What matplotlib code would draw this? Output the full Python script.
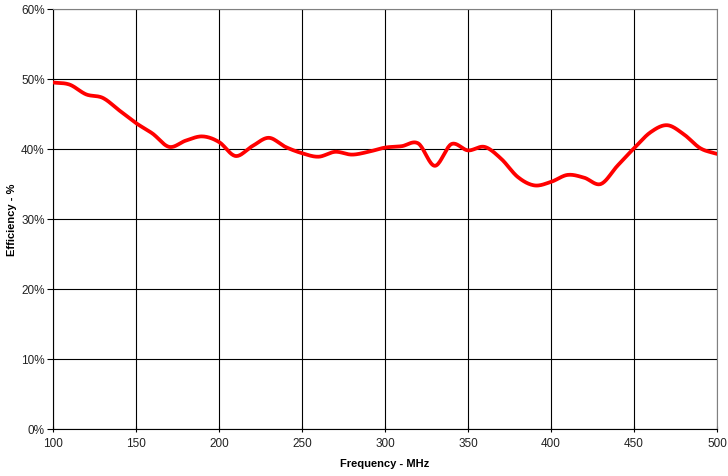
import numpy as np
import matplotlib
matplotlib.use("Agg")
import matplotlib.pyplot as plt
from matplotlib.ticker import FuncFormatter

plt.rcParams['font.family'] = ['Liberation Sans', 'DejaVu Sans']

# frequency (MHz) and efficiency (%)
freq = [100, 110, 120, 130, 140, 150, 160, 170, 180, 190, 200,
        210, 220, 230, 240, 250, 260, 270, 280, 290, 300,
        310, 320, 330, 340, 350, 360, 370, 380, 390, 400,
        410, 420, 430, 440, 450, 460, 470, 480, 490, 500]
eff = [49.5, 49.2, 47.8, 47.3, 45.5, 43.7, 42.2, 40.3, 41.2, 41.8, 41.0,
       39.0, 40.4, 41.6, 40.3, 39.4, 38.9, 39.6, 39.2, 39.6, 40.2,
       40.4, 40.8, 37.6, 40.7, 39.8, 40.3, 38.6, 36.0, 34.8, 35.3,
       36.3, 35.9, 35.0, 37.6, 40.1, 42.4, 43.4, 42.1, 40.1, 39.3]

x_ticks = [100, 150, 200, 250, 300, 350, 400, 450, 500]
y_ticks = [0, 10, 20, 30, 40, 50, 60]


def smooth(x, y, n=20):
    # Catmull-Rom curve through the points, like Excel's smoothed line
    x = np.asarray(x, float)
    y = np.asarray(y, float)
    px = np.concatenate([[2 * x[0] - x[1]], x, [2 * x[-1] - x[-2]]])
    py = np.concatenate([[2 * y[0] - y[1]], y, [2 * y[-1] - y[-2]]])
    xs, ys = [], []
    t = np.linspace(0, 1, n, endpoint=False)
    for i in range(1, len(px) - 2):
        for p, out in ((px, xs), (py, ys)):
            p0, p1, p2, p3 = p[i - 1], p[i], p[i + 1], p[i + 2]
            out.extend(0.5 * (2 * p1 + (-p0 + p2) * t
                              + (2 * p0 - 5 * p1 + 4 * p2 - p3) * t ** 2
                              + (-p0 + 3 * p1 - 3 * p2 + p3) * t ** 3))
    xs.append(x[-1])
    ys.append(y[-1])
    return np.array(xs), np.array(ys)


fig = plt.figure(figsize=(7.28, 4.77), dpi=100)
ax = fig.add_axes([53 / 728, 47 / 477, 664 / 728, 420 / 477])

sx, sy = smooth(freq, eff)
ax.plot(sx, sy, color='#ff0000', linewidth=2.7, solid_capstyle='round', zorder=3)

ax.set_xlim(100, 500)
ax.set_ylim(0, 60)
ax.set_xticks(x_ticks)
ax.set_yticks(y_ticks)
ax.yaxis.set_major_formatter(FuncFormatter(lambda v, p: f"{v:.0f}%"))
ax.grid(True, color='black', linewidth=0.8)
ax.set_axisbelow(True)

for s in ('top', 'right'):
    ax.spines[s].set_color('#808080')
    ax.spines[s].set_linewidth(0.8)
for s in ('left', 'bottom'):
    ax.spines[s].set_color('black')
    ax.spines[s].set_linewidth(0.8)

ax.tick_params(axis='both', labelsize=8.5, colors='black', length=4, width=0.8,
               labelcolor='#222222')
ax.tick_params(axis='x', direction='inout', pad=4)
ax.tick_params(axis='y', direction='out', pad=2)

ax.set_xlabel('Frequency - MHz', fontsize=8, fontweight='bold')
ax.set_ylabel('Efficiency - %', fontsize=8, fontweight='bold')
ax.xaxis.set_label_coords(0.5, -(459 - 430) / 420)
ax.yaxis.set_label_coords(-(53 - 17) / 664, 0.5)

fig.savefig('out.png', dpi=100)
